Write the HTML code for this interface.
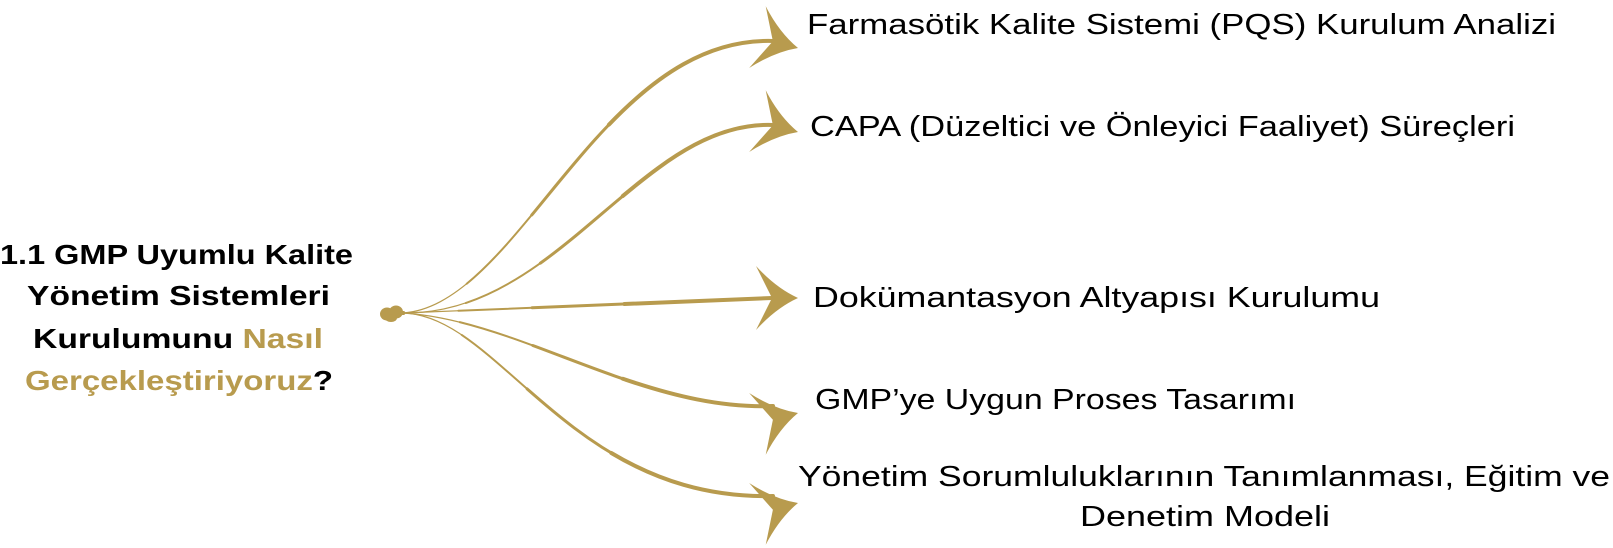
<!DOCTYPE html>
<html><head><meta charset="utf-8"><style>
html,body{margin:0;padding:0;background:#fff;}
svg{display:block;}
</style></head><body>
<svg width="1613" height="548" viewBox="0 0 1613 548" xmlns="http://www.w3.org/2000/svg">
<defs>
<path id="ah" d="M0,0 Q-22,-10 -42,-32 Q-32,-12 -26,0 Q-32,12 -42,32 Q-22,10 0,0 Z" fill="#B89B4E"/>
<path id="c1" d="M403,313 C520,305 600,36 773,41"/>
<path id="c2" d="M403,313 C560,315 640,120 773,125"/>
<path id="c3" d="M403,313 L772,298"/>
<path id="c4" d="M403,313 C520,320 640,411 773,406"/>
<path id="c5" d="M403,313 C500,315 570,501 773,496"/>
</defs>
<g fill="none" stroke="#B89B4E" stroke-linecap="round">
  <g stroke-width="1.2">
    <use href="#c1"/><use href="#c2"/><use href="#c3"/><use href="#c4"/><use href="#c5"/>
  </g>
  <g stroke-width="2" stroke-dasharray="0 15 85">
    <path pathLength="100" d="M403,313 C520,305 600,36 773,41"/>
    <path pathLength="100" d="M403,313 C560,315 640,120 773,125"/>
    <path pathLength="100" d="M403,313 L772,298"/>
    <path pathLength="100" d="M403,313 C520,320 640,411 773,406"/>
    <path pathLength="100" d="M403,313 C500,315 570,501 773,496"/>
  </g>
  <g stroke-width="3" stroke-dasharray="0 35 65">
    <path pathLength="100" d="M403,313 C520,305 600,36 773,41"/>
    <path pathLength="100" d="M403,313 C560,315 640,120 773,125"/>
    <path pathLength="100" d="M403,313 L772,298"/>
    <path pathLength="100" d="M403,313 C520,320 640,411 773,406"/>
    <path pathLength="100" d="M403,313 C500,315 570,501 773,496"/>
  </g>
  <g stroke-width="4" stroke-dasharray="0 60 40">
    <path pathLength="100" d="M403,313 C520,305 600,36 773,41"/>
    <path pathLength="100" d="M403,313 C560,315 640,120 773,125"/>
    <path pathLength="100" d="M403,313 L772,298"/>
    <path pathLength="100" d="M403,313 C520,320 640,411 773,406"/>
    <path pathLength="100" d="M403,313 C500,315 570,501 773,496"/>
  </g>
</g>
<use href="#ah" transform="translate(798,48) rotate(15)"/>
<use href="#ah" transform="translate(798,132) rotate(15)"/>
<use href="#ah" transform="translate(798,298)"/>
<use href="#ah" transform="translate(798,413) rotate(-15)"/>
<use href="#ah" transform="translate(798,503) rotate(-15)"/>
<g fill="#B89B4E">
  <ellipse cx="387" cy="314" rx="7" ry="6.5"/>
  <ellipse cx="396" cy="312" rx="7" ry="6.5"/>
  <ellipse cx="391" cy="318" rx="6" ry="4"/>
</g>
<g font-family="Liberation Sans, sans-serif" font-size="29" fill="#000">
  <text x="807" y="34" textLength="749" lengthAdjust="spacingAndGlyphs">Farmasötik Kalite Sistemi (PQS) Kurulum Analizi</text>
  <text x="810" y="136" textLength="705" lengthAdjust="spacingAndGlyphs">CAPA (Düzeltici ve Önleyici Faaliyet) Süreçleri</text>
  <text x="813" y="307" textLength="567" lengthAdjust="spacingAndGlyphs">Dokümantasyon Altyapısı Kurulumu</text>
  <text x="815" y="409" textLength="481" lengthAdjust="spacingAndGlyphs">GMP’ye Uygun Proses Tasarımı</text>
  <text x="798" y="486" textLength="812" lengthAdjust="spacingAndGlyphs">Yönetim Sorumluluklarının Tanımlanması, Eğitim ve</text>
  <text x="1080" y="526" textLength="250" lengthAdjust="spacingAndGlyphs">Denetim Modeli</text>
</g>
<g font-family="Liberation Sans, sans-serif" font-size="28" font-weight="bold" fill="#000">
  <text x="0" y="264" textLength="353" lengthAdjust="spacingAndGlyphs">1.1 GMP Uyumlu Kalite</text>
  <text x="27" y="305" textLength="303" lengthAdjust="spacingAndGlyphs">Yönetim Sistemleri</text>
  <text x="33" y="348" textLength="290" lengthAdjust="spacingAndGlyphs">Kurulumunu <tspan fill="#B89B4E">Nasıl</tspan></text>
  <text x="25" y="390" textLength="308" lengthAdjust="spacingAndGlyphs"><tspan fill="#B89B4E">Gerçekleştiriyoruz</tspan>?</text>
</g>
</svg>
</body></html>
